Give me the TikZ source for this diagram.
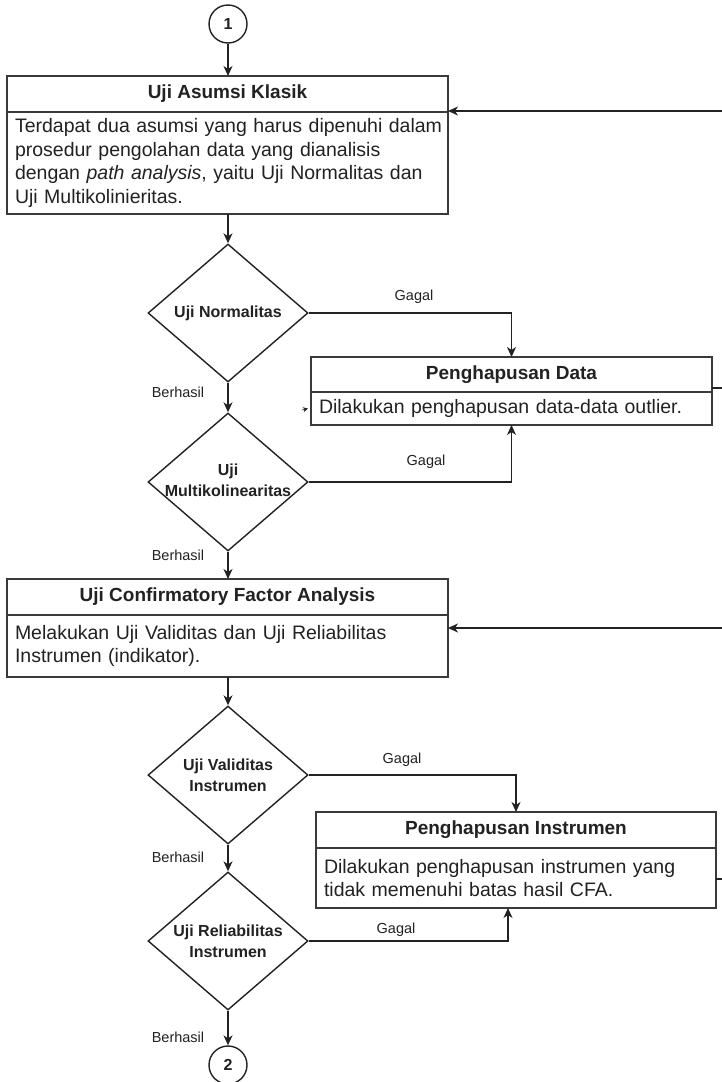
\documentclass[tikz,border=0pt]{standalone}
\usepackage{fontspec}
\setmainfont{Liberation Sans}
\usetikzlibrary{shapes.geometric,arrows.meta,calc}
\definecolor{ink}{HTML}{222222}
\definecolor{frame}{HTML}{3A3A3A}

\begin{document}
\begin{tikzpicture}[x=1pt,y=1pt,
  line/.style={line width=1.4pt, draw=ink},
  arr/.style={line, -{Stealth[length=10pt,width=9pt,inset=3pt]}},
  headbox/.style={draw=frame, line width=1.4pt, rectangle, anchor=north west,
    inner sep=0pt, outer sep=0pt, text=ink, font=\fontsize{19}{23}\selectfont\bfseries},
  bodybox/.style={draw=frame, line width=1.4pt, rectangle, anchor=north west,
    inner xsep=8pt, inner ysep=0pt, outer sep=0pt, align=left, text=ink,
    font=\fontsize{19.5}{23.4}\selectfont},
  decision/.style={draw=ink, line width=1.4pt, diamond, inner sep=0pt,
    minimum width=160pt, minimum height=138pt},
  dectext/.style={align=center, text=ink, font=\fontsize{16}{21}\selectfont\bfseries},
  lbl/.style={text=ink, font=\fontsize{14.5}{17}\selectfont},
  connector/.style={draw=ink, line width=1.4pt, circle, minimum size=38pt,
    inner sep=0pt, text=ink, font=\fontsize{16}{19}\selectfont\bfseries}
]
\fill[white] (0,0) rectangle (722,-1082);
\useasboundingbox (0,0) rectangle (722,-1082);

% off-page connector at the top
\node[connector] (c1) at (228,-24) {1};

% classical assumption tests
\node[headbox, minimum width=441pt, minimum height=36pt] (b1t) at (7,-76) {Uji Asumsi Klasik};
\node[bodybox, text width=425pt, minimum height=102pt] (b1b) at (b1t.south west)
  {\mbox{Terdapat dua asumsi yang harus dipenuhi dalam}\\
   \mbox{prosedur pengolahan data yang dianalisis}\\
   \mbox{dengan \textit{path analysis}, yaitu Uji Normalitas dan}\\
   \mbox{Uji Multikolinieritas.}};

\node[decision] (d1) at (228,-313) {};
\node[dectext] (d1t) at (d1) {Uji Normalitas};
\node[decision] (d2) at (228,-482) {};
\node[dectext] (d2t) at ($(d2)+(0,2)$) {Uji\\Multikolinearitas};

% data removal
\node[headbox, minimum width=401pt, minimum height=35pt] (pdt) at (311,-357) {Penghapusan Data};
\node[bodybox, text width=385pt, minimum height=33pt] (pdb) at (pdt.south west)
  {Dilakukan penghapusan data-data outlier.};

% confirmatory factor analysis
\node[headbox, minimum width=441pt, minimum height=36pt] (b2t) at (7,-579) {Uji Confirmatory Factor Analysis};
\node[bodybox, text width=425pt, minimum height=62pt] (b2b) at (b2t.south west)
  {Melakukan Uji Validitas dan Uji Reliabilitas\\
   Instrumen (indikator).};

\node[decision] (d3) at (228,-775) {};
\node[dectext] (d3t) at (d3) {Uji Validitas\\Instrumen};
\node[decision] (d4) at (228,-941) {};
\node[dectext] (d4t) at (d4) {Uji Reliabilitas\\Instrumen};

% instrument removal
\node[headbox, minimum width=400pt, minimum height=36pt] (pit) at (316,-812) {Penghapusan Instrumen};
\node[bodybox, text width=384pt, minimum height=60pt] (pib) at (pit.south west)
  {Dilakukan penghapusan instrumen yang\\
   tidak memenuhi batas hasil CFA.};

% off-page connector at the bottom
\node[connector] (c2) at (228,-1065) {2};

% edge labels
\node[lbl] (g1) at (414,-297) {Gagal};
\node[lbl] (g2) at (426,-462) {Gagal};
\node[lbl] (g3) at (402,-760) {Gagal};
\node[lbl] (g4) at (396,-930) {Gagal};
\node[lbl] (h1) at (178,-392) {Berhasil};
\node[lbl] (h2) at (178,-555) {Berhasil};
\node[lbl] (h3) at (178,-857) {Berhasil};
\node[lbl] (h4) at (178,-1037) {Berhasil};

% main flow
\draw[arr] (c1.south) -- (c1.south |- b1t.north);
\draw[arr] (d1.north |- b1b.south) -- (d1.north);
\draw[arr] (d1.south) -- (d2.north);
\draw[arr] (d2.south) -- (d2.south |- b2t.north);
\draw[arr] (d3.north |- b2b.south) -- (d3.north);
\draw[arr] (d3.south) -- (d4.north);
\draw[arr] (d4.south) -- (c2.north);

% failure branches
\draw[arr] (d1.east) -| (pdt.north);
\draw[arr] (d2.east) -| (pdb.south);
\draw[arr] (d3.east) -| (pit.north);
\draw[arr] (d4.east) -| ($(pib.south)+(-8,0)$);

% loops returning from the right
\coordinate (in1) at (722,-111);
\coordinate (in2) at (722,-628);
\coordinate (out1) at (722,-388);
\coordinate (out2) at (722,-879);
\draw[arr] (in1) -- (in1 -| b1t.east);
\draw[arr] (in2) -- (in2 -| b2b.east);
\draw[line] (out1 -| pdt.east) -- (out1);
\draw[line] (out2 -| pib.east) -- (out2);

% small stray tip left of the data-removal text
\coordinate (tk) at (302,-410);
\draw[line width=0.6pt, draw=ink, -{Stealth[length=5pt,width=5pt]}] (tk) -- ($(pdb.west)+(-3,0)$);
\end{tikzpicture}
\end{document}
